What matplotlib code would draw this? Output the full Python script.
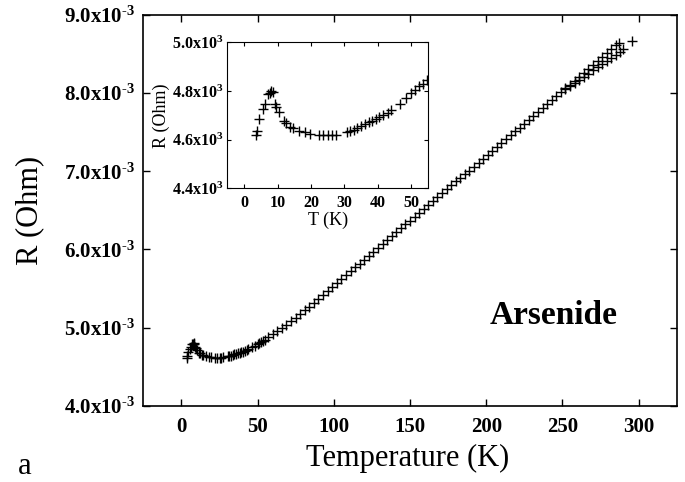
import numpy as np
import matplotlib.pyplot as plt

plt.rcParams['font.family'] = ['Liberation Serif', 'DejaVu Serif']
plt.rcParams['mathtext.fontset'] = 'custom'
plt.rcParams['mathtext.rm'] = 'Liberation Serif:bold'
plt.rcParams['mathtext.bf'] = 'Liberation Serif:bold'
plt.rcParams['mathtext.default'] = 'bf'

# low temperature points (K, mOhm), also shown in the inset
t_low = [3.5, 3.8, 4.4, 5.7, 6.3, 7.1, 7.6, 8.1, 8.6, 9.1, 9.6, 10.3, 11.8,
         12.5, 13.7, 14.5, 16.5, 18.1, 19.6, 22.3, 23.6, 25.2, 26.2, 27.5,
         30.7, 31.5, 32.8, 33.8, 34.8, 36.1, 37.3, 38.3, 39.4, 40.4, 41.6,
         42.9, 43.9, 46.5, 48.5, 50.0, 51.0, 52.3, 53.5, 54.6]
r_low = [4.618, 4.638, 4.685, 4.726, 4.749, 4.789, 4.793, 4.800, 4.797,
         4.749, 4.735, 4.715, 4.678, 4.670, 4.654, 4.647, 4.635, 4.630,
         4.624, 4.618, 4.618, 4.618, 4.618, 4.620, 4.634, 4.638, 4.642,
         4.649, 4.657, 4.665, 4.672, 4.678, 4.684, 4.692, 4.703, 4.712,
         4.722, 4.749, 4.770, 4.793, 4.803, 4.820, 4.830, 4.847]

# warming sweep above 55 K
t_up = [57, 60, 63, 66, 69, 72, 75, 78, 81, 84, 87, 90, 93, 96, 99, 102, 105,
        108, 111, 114, 117, 120, 123, 126, 129, 132, 135, 138, 141, 144, 147,
        150, 153, 156, 159, 162, 165, 168, 171, 174, 177, 180, 183, 186, 189,
        192, 195, 198, 201, 204, 207, 210, 213, 216, 219, 222, 225, 228, 231,
        234, 237, 240, 243, 246, 249, 252, 255, 258, 261, 264, 267, 270, 273,
        276, 279, 282, 285, 287]
r_up = [4.88, 4.915, 4.955, 5.00, 5.04, 5.085, 5.13, 5.18, 5.225, 5.27, 5.32,
        5.37, 5.42, 5.47, 5.52, 5.57, 5.62, 5.67, 5.72, 5.77, 5.82, 5.87,
        5.92, 5.97, 6.02, 6.07, 6.12, 6.17, 6.22, 6.27, 6.32, 6.37, 6.42,
        6.47, 6.52, 6.57, 6.62, 6.67, 6.72, 6.77, 6.82, 6.87, 6.92, 6.96,
        7.01, 7.06, 7.11, 7.16, 7.21, 7.26, 7.31, 7.36, 7.41, 7.46, 7.51,
        7.56, 7.61, 7.66, 7.71, 7.76, 7.81, 7.86, 7.91, 7.96, 8.01, 8.06,
        8.11, 8.16, 8.21, 8.26, 8.31, 8.36, 8.41, 8.46, 8.51, 8.56, 8.61, 8.64]

# second sweep near room temperature
t_down = [252, 255, 258, 261, 264, 267, 270, 273, 276, 279, 282, 285, 288,
          290, 295.4]
r_down = [8.05, 8.09, 8.13, 8.17, 8.21, 8.25, 8.29, 8.33, 8.37, 8.41, 8.45,
          8.49, 8.53, 8.56, 8.67]

x_ticks = [0, 50, 100, 150, 200, 250, 300]
y_ticks = [4.0, 5.0, 6.0, 7.0, 8.0, 9.0]
ins_x_ticks = [0, 10, 20, 30, 40, 50]
ins_y_ticks = [4.4, 4.6, 4.8, 5.0]

T = np.concatenate([t_low, t_up, t_down])
R = np.concatenate([r_low, r_up, r_down]) * 1e-3

fig = plt.figure(figsize=(6.85, 4.82), dpi=100)
ax = fig.add_axes([0.209, 0.158, 0.779, 0.811])
ax.plot(T, R, '+', color='black', markersize=7.5, markeredgewidth=1.0)

ax.set_xlim(-25, 325)
ax.set_ylim(4.0e-3, 9.0e-3)
ax.set_xticks(x_ticks)
ax.set_xticklabels([str(v) for v in x_ticks])
ax.set_yticks([v * 1e-3 for v in y_ticks])
# hyphen (U+2010) keeps the short dash in the exponent
ax.set_yticklabels(['$%.1fx10^{\u20103}$' % v for v in y_ticks])
ax.tick_params(direction='in', length=5, width=1, top=True, right=True,
               labelsize=15)
ax.tick_params(axis='x', pad=8)
ax.tick_params(axis='y', pad=6)
for lab in ax.get_xticklabels():
    lab.set_fontweight('bold')
for s in ax.spines.values():
    s.set_linewidth(1.2)

ax.set_xlabel('Temperature (K)', fontsize=22, va='center')
ax.xaxis.set_label_coords(0.496, -0.134)
ax.set_ylabel('R (Ohm)', fontsize=22, va='center')
ax.yaxis.set_label_coords(-0.213, 0.5)

ax.text(244, 5.15e-3, 'Arsenide', fontsize=24, fontweight='bold',
        ha='center', va='center')
fig.text(0.026, 0.032, 'a', fontsize=22, va='center')

# inset: low temperature anomaly
ins = fig.add_axes([0.332, 0.609, 0.293, 0.303])
ins.plot(t_low, np.array(r_low) * 1e-3, '+', color='black', markersize=7,
         markeredgewidth=1.0)
ins.set_xlim(-5, 55)
ins.set_ylim(4.4e-3, 5.0e-3)
ins.set_xticks(ins_x_ticks)
ins.set_xticklabels([str(v) for v in ins_x_ticks])
ins.set_yticks([v * 1e-3 for v in ins_y_ticks])
ins.set_yticklabels([r'$%.1fx10^{3}$' % v for v in ins_y_ticks])
ins.tick_params(direction='in', length=3, width=0.8, top=True, right=True,
                labelsize=11.5)
ins.tick_params(axis='x', pad=5)
ins.tick_params(axis='y', pad=3)
for lab in ins.get_xticklabels():
    lab.set_fontweight('bold')
ins.set_xlabel('T (K)', fontsize=13, va='center')
ins.xaxis.set_label_coords(0.5, -0.22)
ins.set_ylabel('R (Ohm)', fontsize=13, va='center')
ins.yaxis.set_label_coords(-0.33, 0.5)

fig.savefig('out.png', dpi=100)
